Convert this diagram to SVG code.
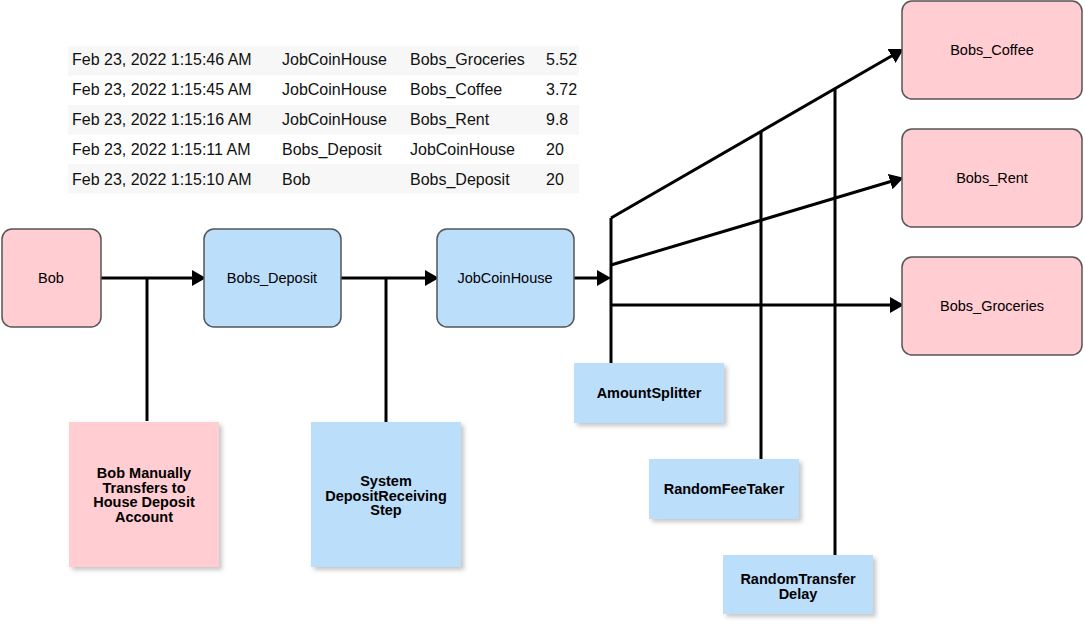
<svg xmlns="http://www.w3.org/2000/svg" width="1085" height="633" viewBox="0 0 1085 633">
<defs>
<marker id="arr" viewBox="0 0 14 16" refX="4" refY="8" markerWidth="14" markerHeight="16" markerUnits="userSpaceOnUse" orient="auto">
<path d="M0,0 L14,8 L0,16 z" fill="#000"/>
</marker>
<filter id="sh" x="-10%" y="-10%" width="130%" height="130%">
<feDropShadow dx="3" dy="3" stdDeviation="2" flood-color="#000" flood-opacity="0.22"/>
</filter>
</defs>
<style>
.tb{font-family:"Liberation Sans",Arial,sans-serif;font-size:16px;fill:#111}
.row{fill:#f7f7f7}
.pink{fill:#ffcdd2;stroke:#555;stroke-width:1.5}
.blue{fill:#bbdefb;stroke:#555;stroke-width:1.5}
.np{fill:#ffcdd2;filter:url(#sh)}
.nb{fill:#bbdefb;filter:url(#sh)}
.lbl{font-family:"Liberation Sans",Arial,sans-serif;font-size:14.5px;fill:#000;text-anchor:middle;dominant-baseline:central}
.bl{font-family:"Liberation Sans",Arial,sans-serif;font-size:14.5px;font-weight:bold;fill:#000;text-anchor:middle;dominant-baseline:central}
.c{fill:none;stroke:#000;stroke-width:3}
.ca{fill:none;stroke:#000;stroke-width:3;marker-end:url(#arr)}
</style>
<g id="table">
<rect class="row" x="68" y="46" width="511" height="29.5"/>
<rect class="row" x="68" y="105" width="511" height="29.5"/>
<rect class="row" x="68" y="164" width="511" height="29.5"/>
<text class="tb" x="72" y="65">Feb 23, 2022 1:15:46 AM</text>
<text class="tb" x="282" y="65">JobCoinHouse</text>
<text class="tb" x="410" y="65">Bobs_Groceries</text>
<text class="tb" x="546" y="65">5.52</text>
<text class="tb" x="72" y="95">Feb 23, 2022 1:15:45 AM</text>
<text class="tb" x="282" y="95">JobCoinHouse</text>
<text class="tb" x="410" y="95">Bobs_Coffee</text>
<text class="tb" x="546" y="95">3.72</text>
<text class="tb" x="72" y="125">Feb 23, 2022 1:15:16 AM</text>
<text class="tb" x="282" y="125">JobCoinHouse</text>
<text class="tb" x="410" y="125">Bobs_Rent</text>
<text class="tb" x="546" y="125">9.8</text>
<text class="tb" x="72" y="155">Feb 23, 2022 1:15:11 AM</text>
<text class="tb" x="282" y="155">Bobs_Deposit</text>
<text class="tb" x="410" y="155">JobCoinHouse</text>
<text class="tb" x="546" y="155">20</text>
<text class="tb" x="72" y="185">Feb 23, 2022 1:15:10 AM</text>
<text class="tb" x="282" y="185">Bob</text>
<text class="tb" x="410" y="185">Bobs_Deposit</text>
<text class="tb" x="546" y="185">20</text>
</g>
<g id="connectors">
<path class="ca" d="M101,278 H196"/>
<path class="c" d="M147,278 V421"/>
<path class="ca" d="M341,278 H429"/>
<path class="c" d="M386,278 V422"/>
<path class="ca" d="M574,278 H601"/>
<path class="c" d="M611,218 V363"/>
<path class="ca" d="M611,218 L895,54"/>
<path class="ca" d="M611,265 L894,180.5"/>
<path class="ca" d="M611,305 H894"/>
<path class="c" d="M761,132 V460"/>
<path class="c" d="M835,89 V555"/>
</g>
<g id="bob"><rect class="pink" x="2" y="229" width="99" height="98" rx="10"/><text class="lbl" x="51" y="278">Bob</text></g>
<g id="bobs_deposit"><rect class="blue" x="204" y="229" width="137" height="98" rx="10"/><text class="lbl" x="272" y="278">Bobs_Deposit</text></g>
<g id="jobcoinhouse"><rect class="blue" x="437" y="229" width="137" height="98" rx="10"/><text class="lbl" x="505" y="278">JobCoinHouse</text></g>
<g id="bobs_coffee"><rect class="pink" x="902" y="1" width="180" height="98" rx="10"/><text class="lbl" x="992" y="50">Bobs_Coffee</text></g>
<g id="bobs_rent"><rect class="pink" x="902" y="129" width="180" height="98" rx="10"/><text class="lbl" x="992" y="178">Bobs_Rent</text></g>
<g id="bobs_groceries"><rect class="pink" x="902" y="257" width="180" height="98" rx="10"/><text class="lbl" x="992" y="306">Bobs_Groceries</text></g>
<g id="note_manual"><rect class="np" x="69" y="422" width="150" height="145"/>
<text class="bl" x="144" y="473">Bob Manually</text>
<text class="bl" x="144" y="487.5">Transfers to</text>
<text class="bl" x="144" y="502">House Deposit</text>
<text class="bl" x="144" y="516.5">Account</text></g>
<g id="note_system"><rect class="nb" x="311" y="422" width="150" height="145"/>
<text class="bl" x="386" y="481">System</text>
<text class="bl" x="386" y="495.5">DepositReceiving</text>
<text class="bl" x="386" y="510">Step</text></g>
<g id="amount_splitter"><rect class="nb" x="574" y="363" width="150" height="60"/><text class="bl" x="649" y="393">AmountSplitter</text></g>
<g id="random_fee_taker"><rect class="nb" x="649" y="459" width="150" height="60"/><text class="bl" x="724" y="489">RandomFeeTaker</text></g>
<g id="random_transfer_delay"><rect class="nb" x="723" y="555" width="150" height="59"/>
<text class="bl" x="798" y="579">RandomTransfer</text>
<text class="bl" x="798" y="593.5">Delay</text></g>
</svg>
